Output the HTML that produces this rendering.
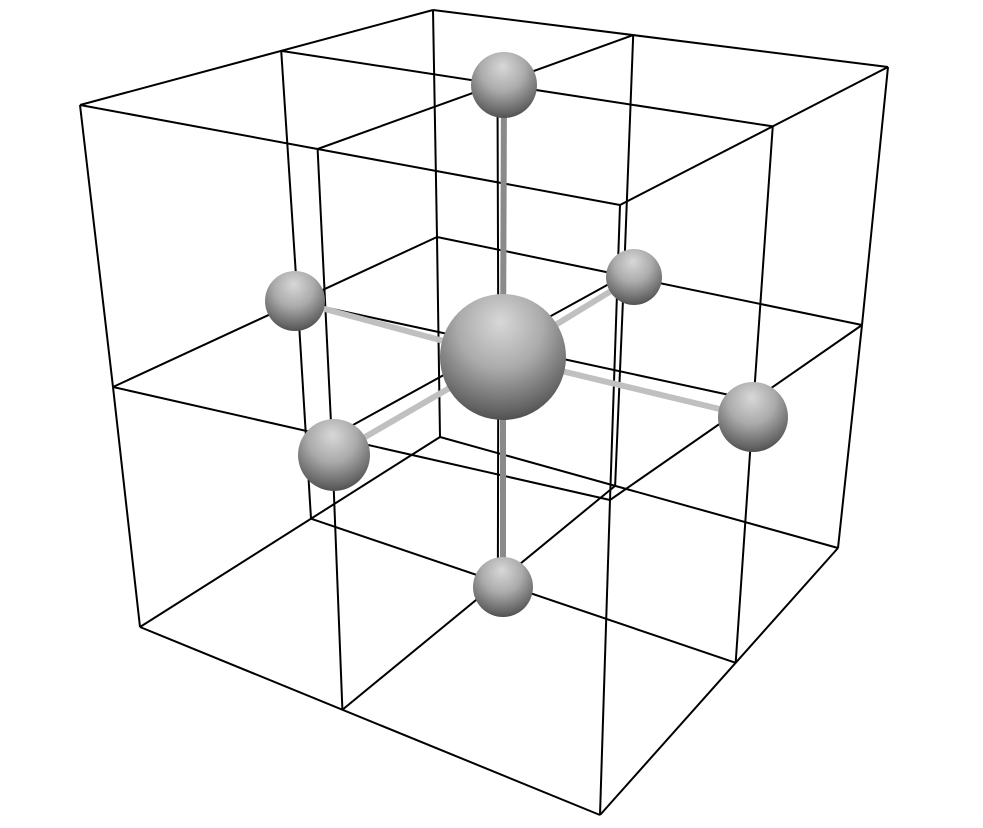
<!DOCTYPE html>
<html><head><meta charset="utf-8"><style>
html,body{margin:0;padding:0;background:#fff;width:983px;height:828px;overflow:hidden}
svg{display:block}
</style></head><body>
<svg id="scene" width="983" height="828" viewBox="0 0 983 828" xmlns="http://www.w3.org/2000/svg">
<defs>
<radialGradient id="sph" cx="0.48" cy="0.3" r="0.75" fx="0.48" fy="0.22">
<stop offset="0" stop-color="#d8d8d8"/>
<stop offset="0.45" stop-color="#ababab"/>
<stop offset="0.85" stop-color="#646464"/>
<stop offset="1" stop-color="#444"/>
</radialGradient>
</defs>
<g id="lattice"></g>
<g id="bonds"></g>
<g id="atoms"></g>
</svg>
<script>
// corner levels: [back, right, front, left]
const levelTop = [[433,10],[888,67],[620,205],[80,105]];
const levelMid = [[437,237],[862,325],[610,500],[113,387]];
const levelBot = [[440,437],[838,548],[600,815],[140,627]];
const atomNames = ['center','top','bottom','left-back','right-back','left-front','right-front'];
const atomX = [503,504,503,295,634,334,753];
const atomY = [357,85,587,301,277,455,417];
const atomR = [63,33,30,30,28,36,35];
const NS='http://www.w3.org/2000/svg';
const levels=[levelTop,levelMid,levelBot];
function pt(lv,u,v){
  const [B,R,F,L]=levels[lv];
  const x=(1-u)*(1-v)*B[0]+u*(1-v)*R[0]+u*v*F[0]+(1-u)*v*L[0];
  const y=(1-u)*(1-v)*B[1]+u*(1-v)*R[1]+u*v*F[1]+(1-u)*v*L[1];
  return [x,y];
}
const lat=document.getElementById('lattice');
function line(a,b,name){
  const l=document.createElementNS(NS,'line');
  l.setAttribute('x1',a[0]);l.setAttribute('y1',a[1]);l.setAttribute('x2',b[0]);l.setAttribute('y2',b[1]);
  l.setAttribute('stroke','#000');l.setAttribute('stroke-width','2');
  
  
  lat.appendChild(l);
}
const fu=[0,0.44,1];
const fv=[0,0.43,1];
for(let lv=0;lv<3;lv++){
  for(let i=0;i<3;i++){
    line(pt(lv,fu[i],0),pt(lv,fu[i],1),'lattice-line');
    line(pt(lv,0,fv[i]),pt(lv,1,fv[i]),'lattice-line');
  }
}
for(let i=0;i<3;i++)for(let j=0;j<3;j++){
  line(pt(0,fu[i],fv[j]),pt(1,fu[i],fv[j]),'lattice-line');
  line(pt(1,fu[i],fv[j]),pt(2,fu[i],fv[j]),'lattice-line');
}
const bonds=document.getElementById('bonds');
for(let k=1;k<atomX.length;k++){
  const b=document.createElementNS(NS,'line');
  b.setAttribute('x1',atomX[0]);b.setAttribute('y1',atomY[0]);b.setAttribute('x2',atomX[k]);b.setAttribute('y2',atomY[k]);
  b.setAttribute('stroke',k<3?'#8a8a8a':'#c0c0c0');b.setAttribute('stroke-width','6');
  
  
  bonds.appendChild(b);
}
const atoms=document.getElementById('atoms');
const order=[3,4,1,6,5,2,0];
for(const k of order){
  const c=document.createElementNS(NS,'circle');
  c.setAttribute('cx',atomX[k]);c.setAttribute('cy',atomY[k]);c.setAttribute('r',atomR[k]);
  c.setAttribute('fill','url(#sph)');
  
  
  atoms.appendChild(c);
}
</script>
</body></html>
